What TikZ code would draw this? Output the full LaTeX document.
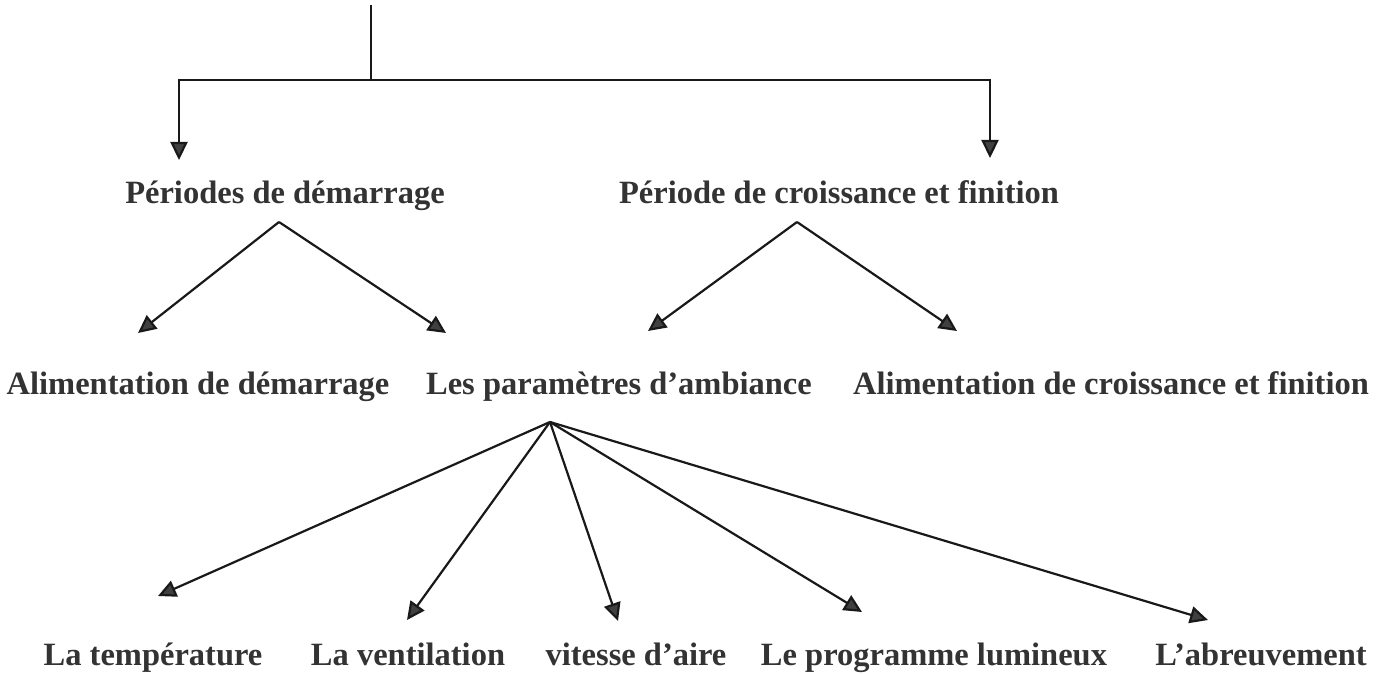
\documentclass[tikz,border=0pt]{standalone}
\usepackage{fontspec}
\setmainfont{Liberation Serif}
\usetikzlibrary{arrows.meta}
\begin{document}
\begin{tikzpicture}[x=1pt,y=-1pt,
  lbl/.style={font=\bfseries\fontsize{32.5}{36}\selectfont, text=black!80, inner sep=0pt, anchor=base},
  ln/.style={line width=2.2pt, draw=black!90},
  arr/.style={ln, -{Triangle[length=18pt,width=17pt,fill=black!75]}}]
\useasboundingbox (0,0) rectangle (1387,674);
% nodes
\node[lbl] (pd) at (285,204) {Périodes de démarrage};
\node[lbl] (pc) at (839,204) {Période de croissance et finition};
\node[lbl] (ad) at (198,394) {Alimentation de démarrage};
\node[lbl] (pa) at (619,394) {Les paramètres d’ambiance};
\node[lbl] (ac) at (1111,394) {Alimentation de croissance et finition};
\node[lbl] (t1) at (153,665) {La température};
\node[lbl] (t2) at (408,665) {La ventilation};
\node[lbl] (t3) at (636,665) {vitesse d’aire};
\node[lbl] (t4) at (934,665) {Le programme lumineux};
\node[lbl] (t5) at (1261,665) {L’abreuvement};
% coordinates
\coordinate (top) at (371,5);
\coordinate (j) at (371,80);
\coordinate (pdin) at (179,160);
\coordinate (pcin) at (990,158);
\coordinate (pdout) at (279,222);
\coordinate (pcout) at (797,222);
\coordinate (adin) at (138,333);
\coordinate (pain) at (446,333);
\coordinate (pain2) at (648,331);
\coordinate (acin) at (957,331);
\coordinate (paout) at (550,422);
\coordinate (t1in) at (158,596);
\coordinate (t2in) at (407,620);
\coordinate (t3in) at (618,621);
\coordinate (t4in) at (862,612);
\coordinate (t5in) at (1208,620);
% connectors
\draw[ln] (top) -- (j);
\draw[arr] (j) -| (pdin);
\draw[arr] (j) -| (pcin);
\draw[arr] (pdout) -- (adin);
\draw[arr] (pdout) -- (pain);
\draw[arr] (pcout) -- (pain2);
\draw[arr] (pcout) -- (acin);
\foreach \t in {t1in,t2in,t3in,t4in,t5in}
  \draw[arr] (paout) -- (\t);
\end{tikzpicture}
\end{document}
